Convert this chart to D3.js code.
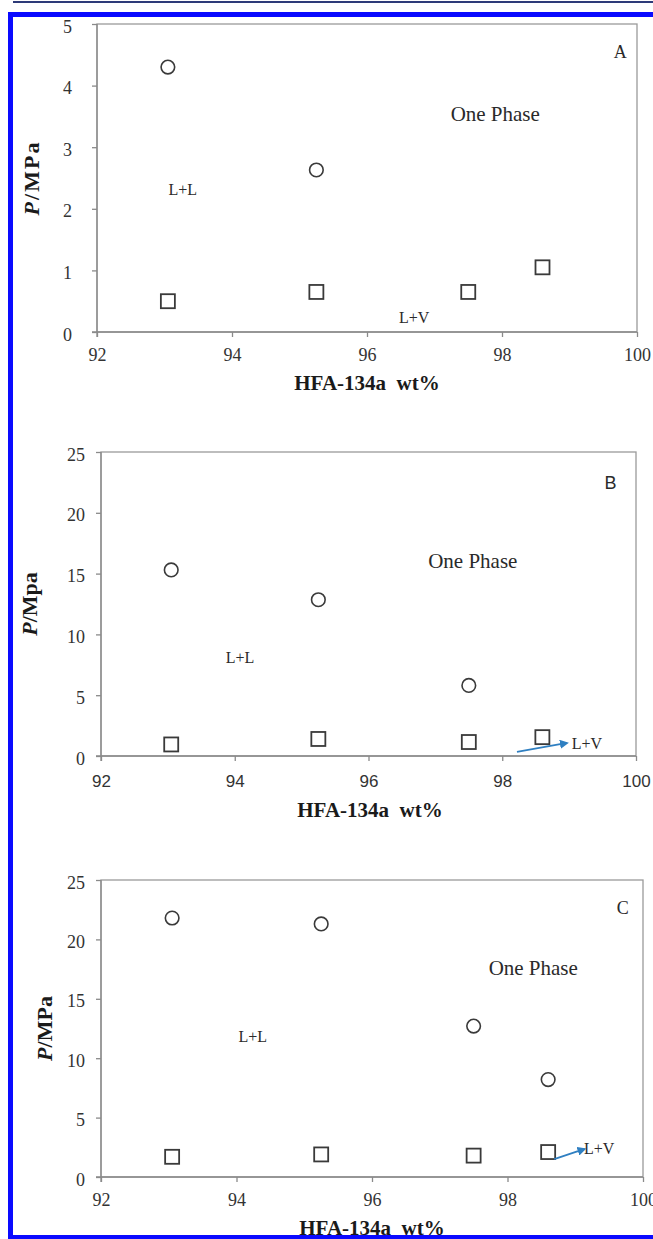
<!DOCTYPE html>
<html>
<head>
<meta charset="utf-8">
<script src="https://cdn.jsdelivr.net/npm/d3@7"></script>
<style>
    body { margin: 0; background: #fff; }
    svg { display: block; }
    .axis path, .axis line { stroke: #8a8a8a; stroke-width: 1.3; }
    .axis text { fill: #333; font-family: 'Liberation Serif', serif; font-size: 18px; }
    .axis-title { fill: #1a1a1a; font-family: 'Liberation Serif', serif; font-weight: bold; font-size: 21px; }
    .note { fill: #2a2a2a; font-family: 'Liberation Serif', serif; }
</style>
</head>
<body>
<svg id="chart" width="653" height="1239"></svg>
<script>
// HFA-134a phase boundaries, panels A / B / C
(function() {
    'use strict';

    // Composition (HFA-134a wt%) of each sample
    const wtPercent = [93.05, 95.25, 97.5, 98.6];

    // Circles: L+L -> one phase boundary (MPa)
    const llA = [4.3, 2.63];
    const llB = [15.3, 12.85, 5.8];
    const llC = [21.8, 21.3, 12.7, 8.2];

    // Squares: L+V -> liquid boundary (MPa)
    const lvA = [0.5, 0.65, 0.65, 1.05];
    const lvB = [0.95, 1.4, 1.15, 1.55];
    const lvC = [1.7, 1.9, 1.8, 2.1];

    // Axis ticks
    const xTicks = [92, 94, 96, 98, 100];
    const yTicksA = [0, 1, 2, 3, 4, 5];
    const yTicksB = [0, 5, 10, 15, 20, 25];
    const yTicksC = [0, 5, 10, 15, 20, 25];

    const yTitles = ['P/MPa', 'P/Mpa', 'P/MPa'];
    const xTitle = 'HFA-134a  wt%';

    const svg = d3.select('#chart');

    // outer frame (top rule + blue border)
    svg.append('rect').attr('x', 13).attr('y', 1).attr('width', 640).attr('height', 2).attr('fill', '#2d3a78');

    const panels = [
        {
            key: 'A', ll: llA, lv: lvA, yTicks: yTicksA, yMax: 5, title: yTitles[0], titleSpacing: 2,
            left: 97, right: 637, top: 24, bottom: 332,
            yTitleX: 32, xLabelDy: 23, xTitleY: 390, xTitleX: 367, yLabelGap: 25,
            notes: [
                { text: 'A', x: 99.75, y: 4.55, size: 18 },
                { text: 'One Phase', x: 97.9, y: 3.54, size: 21 },
                { text: 'L+L', x: 93.27, y: 2.31, size: 16 },
                { text: 'L+V', x: 96.7, y: 0.23, size: 16 }
            ],
            arrow: null
        },
        {
            key: 'B', ll: llB, lv: lvB, yTicks: yTicksB, yMax: 25, title: yTitles[1], titleSpacing: 0,
            left: 101, right: 636, top: 452, bottom: 756,
            yTitleX: 30, xLabelDy: 26, xTitleY: 817, xTitleX: 370, yLabelGap: 16, sansX: true,
            notes: [
                { text: 'B', x: 99.62, y: 22.5, size: 18, sans: true },
                { text: 'One Phase', x: 97.56, y: 16.1, size: 21 },
                { text: 'L+L', x: 94.08, y: 8.1, size: 16 },
                { text: 'L+V', x: 99.04, y: 1.07, size: 16, anchor: 'start' }
            ],
            arrow: { x1: 98.22, y1: 0.33, x2: 98.97, y2: 1.07 }
        },
        {
            key: 'C', ll: llC, lv: lvC, yTicks: yTicksC, yMax: 25, title: yTitles[2], titleSpacing: 0,
            left: 101, right: 643, top: 880, bottom: 1177,
            yTitleX: 45, xLabelDy: 23, xTitleY: 1235, xTitleX: 372, yLabelGap: 16,
            notes: [
                { text: 'C', x: 99.7, y: 22.7, size: 18 },
                { text: 'One Phase', x: 98.38, y: 17.6, size: 21 },
                { text: 'L+L', x: 94.24, y: 11.87, size: 16 },
                { text: 'L+V', x: 99.13, y: 2.44, size: 16, anchor: 'start' }
            ],
            arrow: { x1: 98.69, y1: 1.5, x2: 99.14, y2: 2.36 }
        }
    ];

    const defs = svg.append('defs');
    defs.append('marker')
        .attr('id', 'head')
        .attr('viewBox', '0 0 10 10')
        .attr('refX', 8).attr('refY', 5)
        .attr('markerWidth', 5).attr('markerHeight', 5)
        .attr('orient', 'auto')
        .append('path')
        .attr('d', 'M0,0 L10,5 L0,10 Z')
        .attr('fill', '#2f7fc1');

    panels.forEach(drawPanel);

    // blue border on top of everything (it clips the last axis title)
    svg.append('rect').attr('x', 8).attr('y', 12).attr('width', 645).attr('height', 5).attr('fill', '#0a0aff');
    svg.append('rect').attr('x', 8).attr('y', 12).attr('width', 5).attr('height', 1227).attr('fill', '#0a0aff');
    svg.append('rect').attr('x', 8).attr('y', 1235).attr('width', 645).attr('height', 4).attr('fill', '#0a0aff');

    function drawPanel(p) {
        const x = d3.scaleLinear().domain([92, 100]).range([p.left, p.right]);
        const y = d3.scaleLinear().domain([0, p.yMax]).range([p.bottom, p.top]);
        const g = svg.append('g');

        // plot frame
        g.append('rect')
            .attr('x', p.left).attr('y', p.top)
            .attr('width', p.right - p.left).attr('height', p.bottom - p.top)
            .attr('fill', 'none').attr('stroke', '#9a9a9a').attr('stroke-width', 1.3);

        const yAxis = g.append('g')
            .attr('class', 'axis')
            .attr('transform', `translate(${p.left},0)`)
            .call(d3.axisLeft(y).tickValues(p.yTicks).tickFormat(d3.format('d'))
                .tickSize(5).tickPadding(p.yLabelGap - 5));
        yAxis.select('.domain').remove();
        yAxis.selectAll('text').attr('dy', '0.45em');

        const xAxis = g.append('g')
            .attr('class', 'axis')
            .attr('transform', `translate(0,${p.bottom})`)
            .call(d3.axisBottom(x).tickValues(xTicks).tickFormat(d3.format('d'))
                .tickSize(5).tickPadding(p.xLabelDy - 12));
        xAxis.select('.domain').remove();
        if (p.sansX) {
            xAxis.selectAll('text').style('font-family', "'Liberation Sans', sans-serif").style('font-size', '17px');
        }

        // axis lines
        g.append('line').attr('x1', p.left).attr('x2', p.left).attr('y1', p.top).attr('y2', p.bottom + 5)
            .attr('stroke', '#8a8a8a').attr('stroke-width', 1.3);
        g.append('line').attr('x1', p.left - 5).attr('x2', p.right).attr('y1', p.bottom).attr('y2', p.bottom)
            .attr('stroke', '#8a8a8a').attr('stroke-width', 1.3);

        // y title: italic P
        const yt = g.append('text')
            .attr('class', 'axis-title')
            .attr('transform', `translate(${p.yTitleX + 7},${(p.top + p.bottom) / 2}) rotate(-90)`)
            .attr('text-anchor', 'middle')
            .style('font-size', '22px')
            .style('letter-spacing', p.titleSpacing + 'px');
        yt.append('tspan').style('font-style', 'italic').text(p.title.slice(0, 1));
        yt.append('tspan').text(p.title.slice(1));

        g.append('text')
            .attr('class', 'axis-title')
            .attr('x', p.xTitleX).attr('y', p.xTitleY)
            .attr('text-anchor', 'middle')
            .attr('xml:space', 'preserve')
            .style('white-space', 'pre')
            .text(xTitle);

        // circles
        g.selectAll('.ll')
            .data(p.ll)
            .enter()
            .append('circle')
            .attr('cx', (d, i) => x(wtPercent[i]))
            .attr('cy', d => y(d))
            .attr('r', 6.8)
            .attr('fill', 'none')
            .attr('stroke', '#3a3a3a')
            .attr('stroke-width', 1.6);

        // squares
        const s = 14;
        g.selectAll('.lv')
            .data(p.lv)
            .enter()
            .append('rect')
            .attr('x', (d, i) => x(wtPercent[i]) - s / 2)
            .attr('y', d => y(d) - s / 2)
            .attr('width', s).attr('height', s)
            .attr('fill', 'none')
            .attr('stroke', '#3a3a3a')
            .attr('stroke-width', 1.8);

        // region notes
        p.notes.forEach(n => {
            g.append('text')
                .attr('class', 'note')
                .attr('x', x(n.x)).attr('y', y(n.y))
                .attr('dy', '0.35em')
                .attr('text-anchor', n.anchor || 'middle')
                .style('font-size', n.size + 'px')
                .style('font-family', n.sans ? "'Liberation Sans', sans-serif" : null)
                .text(n.text);
        });

        if (p.arrow) {
            g.append('line')
                .attr('x1', x(p.arrow.x1)).attr('y1', y(p.arrow.y1))
                .attr('x2', x(p.arrow.x2)).attr('y2', y(p.arrow.y2))
                .attr('stroke', '#2f7fc1')
                .attr('stroke-width', 1.8)
                .attr('marker-end', 'url(#head)');
        }
    }
})();
</script>
</body>
</html>
